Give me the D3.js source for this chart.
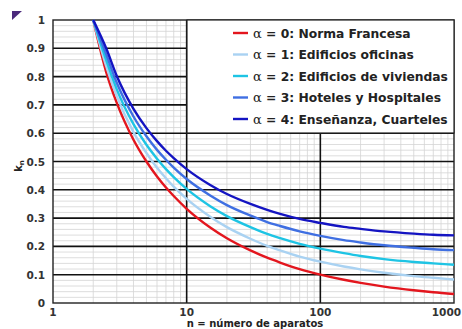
<!DOCTYPE html>
<html>
<head>
<meta charset="utf-8">
<script src="https://cdn.jsdelivr.net/npm/d3@7"></script>
<style>
  body { margin: 0; background: #fff; }
  svg { display: block; }
  text { font-family: "DejaVu Sans", Verdana, sans-serif; }
</style>
</head>
<body>
<div id="chart-container"></div>
<script>
// number of appliances (x positions of the read points)
const N = [2, 2.5, 3, 4, 5, 6, 7, 8, 10, 15, 20, 30, 40, 50, 70, 100, 150, 200, 300, 500, 700, 1000];

// k_n
const ALPHA0 = [1, 0.816, 0.707, 0.577, 0.5, 0.447, 0.408, 0.378, 0.333, 0.267, 0.229, 0.186, 0.160, 0.143, 0.120, 0.1005, 0.082, 0.071, 0.058, 0.045, 0.038, 0.032];
const ALPHA1 = [1, 0.837, 0.731, 0.604, 0.530, 0.478, 0.441, 0.411, 0.368, 0.305, 0.268, 0.227, 0.202, 0.186, 0.164, 0.146, 0.129, 0.119, 0.107, 0.095, 0.089, 0.083];
const ALPHA2 = [1, 0.858, 0.755, 0.632, 0.559, 0.510, 0.473, 0.445, 0.403, 0.342, 0.307, 0.268, 0.244, 0.229, 0.209, 0.192, 0.176, 0.166, 0.155, 0.145, 0.140, 0.135];
const ALPHA3 = [1, 0.879, 0.778, 0.659, 0.589, 0.541, 0.506, 0.478, 0.438, 0.380, 0.346, 0.309, 0.286, 0.272, 0.253, 0.237, 0.222, 0.214, 0.204, 0.195, 0.190, 0.187];
const ALPHA4 = [1, 0.900, 0.802, 0.686, 0.618, 0.572, 0.538, 0.512, 0.473, 0.417, 0.385, 0.350, 0.329, 0.315, 0.297, 0.283, 0.269, 0.262, 0.253, 0.245, 0.241, 0.239];

const LABELS = [
    "0: Norma Francesa",
    "1: Edificios oficinas",
    "2: Edificios de viviendas",
    "3: Hoteles y Hospitales",
    "4: Enseñanza, Cuarteles"
];
const COLORS = ["#e3161e", "#a9d2f2", "#1ec4e4", "#3f6fe2", "#1414c2"];

const X_TICKS = [1, 10, 100, 1000];
const Y_TICKS = [0, 0.1, 0.2, 0.3, 0.4, 0.5, 0.6, 0.7, 0.8, 0.9, 1];

function drawChart() {
    const W = 462, H = 329;
    const left = 53, right = 454, top = 20, bottom = 303;

    const svg = d3.select("#chart-container")
        .append("svg")
        .attr("width", W)
        .attr("height", H);

    // little purple corner mark
    svg.append("path")
        .attr("d", "M12,11 L22,11 L12,20 Z")
        .attr("fill", "#4b2a7c");

    const x = d3.scaleLog().domain([1, 1000]).range([left, right]);
    const y = d3.scaleLinear().domain([0, 1]).range([bottom, top]);

    const grid = svg.append("g");

    // minor horizontal grid every 0.02
    const minorY = d3.range(0, 51).map(i => i / 50).filter(v => Math.round(v * 50) % 5 !== 0);
    grid.selectAll(".hmin").data(minorY).enter().append("line")
        .attr("x1", left).attr("x2", right)
        .attr("y1", d => y(d)).attr("y2", d => y(d))
        .attr("stroke", "#d4d4d4").attr("stroke-width", 0.8);

    // minor vertical grid 2..9 per decade
    const minorX = [];
    [1, 10, 100].forEach(dec => { for (let k = 2; k <= 9; k++) minorX.push(dec * k); });
    grid.selectAll(".vmin").data(minorX).enter().append("line")
        .attr("x1", d => x(d)).attr("x2", d => x(d))
        .attr("y1", top).attr("y2", bottom)
        .attr("stroke", "#d4d4d4").attr("stroke-width", 0.8);

    // major grid
    grid.selectAll(".hmaj").data(Y_TICKS.slice(1, -1)).enter().append("line")
        .attr("x1", left).attr("x2", right)
        .attr("y1", d => y(d)).attr("y2", d => y(d))
        .attr("stroke", "#111").attr("stroke-width", 1.6);
    grid.selectAll(".vmaj").data([10, 100]).enter().append("line")
        .attr("x1", d => x(d)).attr("x2", d => x(d))
        .attr("y1", top).attr("y2", bottom)
        .attr("stroke", "#111").attr("stroke-width", 1.6);

    // frame
    svg.append("rect")
        .attr("x", left).attr("y", top)
        .attr("width", right - left).attr("height", bottom - top)
        .attr("fill", "none").attr("stroke", "#222").attr("stroke-width", 1.4);

    // curves
    const series = [ALPHA0, ALPHA1, ALPHA2, ALPHA3, ALPHA4];
    const line = d3.line()
        .x((d, i) => x(N[i]))
        .y(d => y(d))
        .curve(d3.curveMonotoneX);
    svg.append("g").selectAll("path")
        .data(series)
        .enter().append("path")
        .attr("d", line)
        .attr("fill", "none")
        .attr("stroke", (d, i) => COLORS[i])
        .attr("stroke-width", 2.4);

    // y tick labels
    svg.append("g").selectAll("text")
        .data(Y_TICKS).enter().append("text")
        .attr("x", 45).attr("y", d => y(d) + 4)
        .attr("text-anchor", "end")
        .attr("font-size", 10.5).attr("font-weight", "bold").attr("fill", "#333")
        .text(d => d3.format("~g")(d));

    // x tick labels (last one pulled in so it stays inside the page)
    svg.append("g").selectAll("text")
        .data(X_TICKS).enter().append("text")
        .attr("x", d => d === 1000 ? 461 : x(d))
        .attr("y", 315.5)
        .attr("text-anchor", d => d === 1000 ? "end" : "middle")
        .attr("font-size", 10.5).attr("font-weight", "bold").attr("fill", "#333")
        .text(d => d);

    // axis titles
    svg.append("text")
        .attr("x", 255).attr("y", 326.5)
        .attr("text-anchor", "middle")
        .attr("font-size", 10).attr("font-weight", "bold").attr("fill", "#222")
        .text("n = número de aparatos");

    const yl = svg.append("text")
        .attr("transform", "translate(22,166) rotate(-90)")
        .attr("text-anchor", "middle")
        .attr("font-size", 10).attr("font-weight", "bold").attr("fill", "#222");
    yl.append("tspan").text("k");
    yl.append("tspan").attr("font-size", 7).attr("dy", 2).text("n");

    // legend
    const lg = svg.append("g");
    lg.append("rect")
        .attr("x", 187).attr("y", top)
        .attr("width", right - 187).attr("height", 113)
        .attr("fill", "#fff").attr("stroke", "#222").attr("stroke-width", 1.2);

    const rows = lg.selectAll("g.row").data(LABELS).enter().append("g")
        .attr("transform", (d, i) => `translate(0,${33 + i * 21.5})`);
    rows.append("line")
        .attr("x1", 233).attr("x2", 248)
        .attr("stroke", (d, i) => COLORS[i]).attr("stroke-width", 2.4);
    const t = rows.append("text")
        .attr("x", 253).attr("y", 4.5)
        .attr("font-size", 12.3).attr("fill", "#222");
    t.append("tspan").attr("font-family", "DejaVu Serif, serif").attr("font-size", 13).text("α");
    t.append("tspan").attr("font-weight", "bold").text(" = ");
    t.append("tspan").attr("font-weight", "bold").text(d => d);
}

drawChart();
</script>
</body>
</html>
